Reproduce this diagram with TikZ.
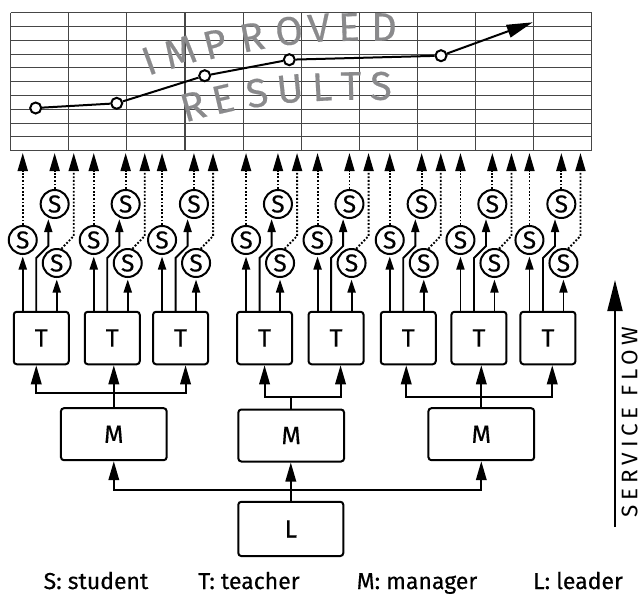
\documentclass[tikz,border=0pt]{standalone}
\usepackage{fontspec}
\setmainfont{Fira Sans}
\newfontfamily\flowfont[LetterSpace=21]{Fira Sans}
\newfontfamily\labelfont[FakeBold=0.4]{Fira Sans}
\usetikzlibrary{arrows.meta,calc}
\definecolor{wordgray}{RGB}{138,138,140}
\definecolor{gridline}{RGB}{70,70,70}

\begin{document}
\begin{tikzpicture}[x=1pt,y=-1pt,
  wire/.style={line width=1.9pt, black},
  bigtip/.style={wire, -{Triangle[length=19pt,width=10.5pt]}},
  smalltip/.style={wire, -{Triangle[length=13pt,width=8pt]}, shorten >=1.5pt},
  dotwire/.style={line width=1.9pt, dash pattern=on 1.8pt off 1.8pt, -{Triangle[length=18pt,width=10pt]}},
  box/.style={draw, line width=2pt, rounded corners=3pt, fill=white, inner sep=0pt, font=\labelfont\fontsize{25}{28}\selectfont},
  tbox/.style={box, minimum width=55pt, minimum height=52.5pt},
  mbox/.style={box, minimum width=105.7pt, minimum height=52pt},
  lbox/.style={box, minimum width=105pt, minimum height=54.3pt},
  snode/.style={circle, draw, line width=2pt, minimum size=28pt, inner sep=0pt, fill=white, font=\labelfont\fontsize{24.5}{27}\selectfont},
  word/.style={text=wordgray, inner sep=0pt, font=\labelfont\fontsize{40}{42}\selectfont},
  dot/.style={circle, draw, line width=2pt, fill=white, minimum size=11pt, inner sep=0pt},
  legend/.style={anchor=base, inner sep=0pt, font=\labelfont\fontsize{23}{26}\selectfont}
]
\useasboundingbox (0,0) rectangle (643,595);

% results chart grid: 10 columns x 10 rows
\foreach \i in {0,...,10}
  \draw[gridline, line width=1.1pt] (10.7+58.1*\i,12.7) -- (10.7+58.1*\i,150.7);
\foreach \j in {0,...,10}
  \draw[gridline, line width=1.1pt] (10.7,12.7+13.8*\j) -- (591.7,12.7+13.8*\j);
\coordinate (gridfoot) at (0,153);

% curved caption letters
\foreach \ch/\x/\y/\a [count=\k] in {I/149/61/20, M/180/52/17, P/215/44/14, R/252/37/11,
    O/289/31/8, V/319/28/5, E/349/27/2, D/384/27/0}
  \node[word, rotate=\a] (imp\k) at (\x,\y) {\ch};
\foreach \ch/\x/\y/\a [count=\k] in {R/193/106/16, E/223/99/13, S/257/93/9, U/290/89/6,
    L/322/87/3, T/351/86/1, S/381/86/0}
  \node[word, rotate=\a] (res\k) at (\x,\y) {\ch};

% trend line
\node[dot] (g1) at (35.7,108) {};
\node[dot] (g2) at (116.7,103.3) {};
\node[dot] (g3) at (204.7,75.7) {};
\node[dot] (g4) at (289.3,59.7) {};
\node[dot] (g5) at (441,55.7) {};
\coordinate (gend) at (532.7,22.3);
\draw[line width=2pt] (g1) -- (g2) -- (g3) -- (g4) -- (g5);
\draw[line width=2pt, -{Triangle[length=26pt,width=13pt]}] (g5) -- (gend);

% teachers with their students
\foreach \c [count=\i] in {41.25,112.25,180.55,264.55,336.05,408.25,478.95,547.95} {
  \node[tbox] (T\i) at (\c,338) {T};
  \node[snode] (Sa\i) at (\c-18.5,240) {S};
  \node[snode] (Sb\i) at (\c+13.4,204) {S};
  \node[snode] (Sc\i) at (\c+15.5,263) {S};
  \coordinate (B\i) at (\c-5,258);
  \coordinate (K\i) at (\c+32.5,236);
  \draw[smalltip] (T\i.north -| Sa\i) -- (Sa\i);
  \draw[smalltip] (T\i.north -| B\i) -- (B\i) -- (Sb\i.245 |- 0,246) -- (Sb\i.245);
  \draw[smalltip] (T\i.north -| Sc\i) -- (Sc\i);
  \draw[dotwire] (Sa\i) -- (Sa\i |- gridfoot);
  \draw[dotwire] (Sb\i) -- (Sb\i |- gridfoot);
  \draw[dotwire] (Sc\i.72) -- (K\i) -- (K\i |- gridfoot);
}

% managers and leader
\node[mbox] (M1) at (113.8,434.2) {M};
\node[mbox] (M2) at (291.2,435.5) {M};
\node[mbox] (M3) at (481.3,434.2) {M};
\node[lbox] (L) at (290.8,528.9) {L};

\coordinate (barA) at (0,393.3);
\coordinate (barB) at (0,397.3);
\coordinate (barC) at (0,396.7);
\coordinate (barL) at (0,490);

\draw[bigtip] (M1.north) -- (M1.north |- T2.south);
\draw[bigtip] (M1.north |- barA) -| ([xshift=-5pt]T1.south);
\draw[bigtip] (M1.north |- barA) -| ([xshift=5pt]T3.south);

\draw[wire] (M2.north) -- (M2.north |- barB);
\draw[bigtip] (M2.north |- barB) -| (T4.south);
\draw[bigtip] (M2.north |- barB) -| ([xshift=4.5pt]T5.south);

\draw[bigtip] (M3.north) -- (M3.north |- T7.south);
\draw[bigtip] (M3.north |- barC) -| ([xshift=-2pt]T6.south);
\draw[bigtip] (M3.north |- barC) -| ([xshift=4.3pt]T8.south);

\draw[bigtip] (L.north) -- (L.north |- M2.south);
\draw[bigtip] (L.north |- barL) -| (M1.south);
\draw[bigtip] (L.north |- barL) -| (M3.south);

% service flow direction
\coordinate (flowbase) at (615,527);
\coordinate (flowtop) at (615,280);
\draw[line width=1.9pt, -{Triangle[length=31pt,width=15pt]}] (flowbase) -- (flowtop);
\node[rotate=90, inner sep=0pt, font=\flowfont\fontsize{22.5}{25}\selectfont] (flow) at (629.5,422) {SERVICE FLOW};

% key
\node[legend] (keyS) at (96,589) {S: student};
\node[legend] (keyT) at (249,589) {T: teacher};
\node[legend] (keyM) at (417,589) {M: manager};
\node[legend] (keyL) at (578,589) {L: leader};
\end{tikzpicture}
\end{document}
